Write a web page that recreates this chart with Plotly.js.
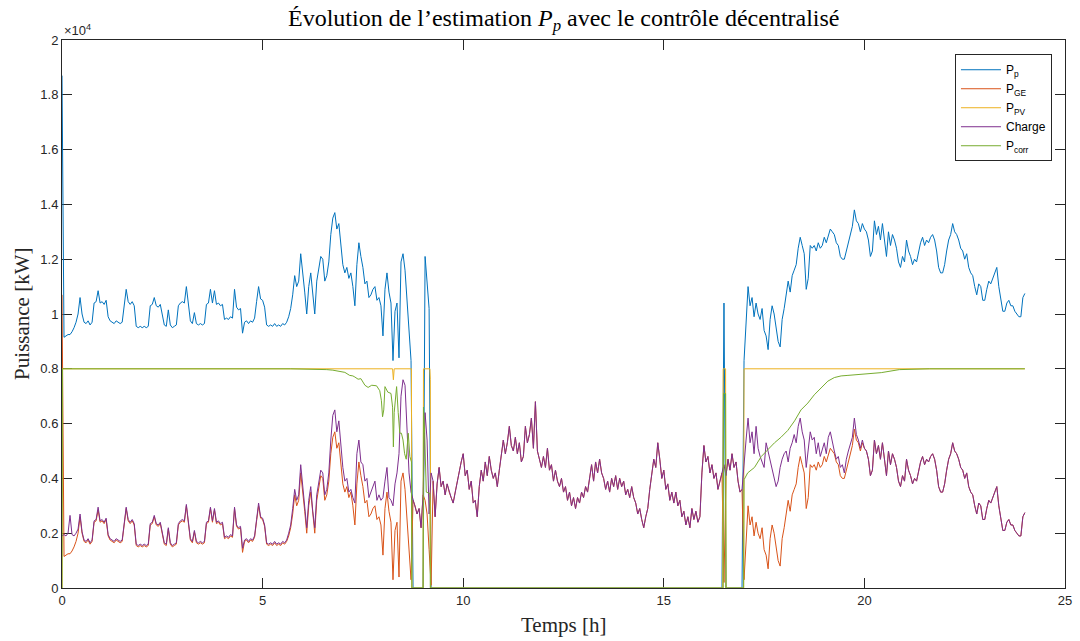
<!DOCTYPE html>
<html>
<head>
<meta charset="utf-8">
<script src="https://cdn.plot.ly/plotly-3.0.1.min.js"></script>
<style>html,body{margin:0;padding:0;background:#fff;}#chart{width:1080px;height:641px;}</style>
</head>
<body>
<div id="chart"></div>
<script>
// Sampling step of the main series (hours); each row below = one hour (20 samples)
const STEP_H = 0.05;

// P_p (kW)
const Pp = [
18700,9150,9200,9250,9250,9350,9500,9700,10000,10600,10000,9700,9650,9750,9600,9700,10400,10450,10850,10400,
10450,10350,10500,9900,9750,9700,9650,9750,9700,9650,9700,10400,10900,10450,10350,10450,10300,9550,9500,9550,
9500,9550,9500,9550,10300,10350,10600,10300,10250,10350,9950,9600,9550,10150,9600,9500,9550,9600,10300,10400,
10450,10400,11000,10450,9750,9650,10050,9650,9600,9650,9600,9650,10350,10400,10900,10400,10850,10350,10400,10300,
10350,9800,9850,9800,9900,9850,10900,10250,10150,10200,9300,9700,9750,9650,9750,9700,9850,10450,11000,10550,
10500,10250,9600,9550,9600,9550,9650,9550,9600,9550,9650,9600,9700,9900,10200,10700,11400,11000,11200,12200,
11600,10800,10000,11000,11500,10600,10000,11200,11700,12100,12000,11200,11400,11900,12900,13500,13700,13100,13300,12600,
11800,11500,11700,11300,11500,11000,10300,11800,12600,12100,11700,11100,11200,10600,10700,10900,11000,10500,10600,10300,
9200,10900,11500,10800,10400,8300,10100,10400,8400,11900,12200,11600,10600,9400,8300,0,0,0,0,0,
0,12100,11000,10200,0,0,0,0,0,0,0,0,0,0,0,0,0,0,0,0,
0,0,0,0,0,0,0,0,0,0,0,0,0,0,0,0,0,0,0,0,
0,0,0,0,0,0,0,0,0,0,0,0,0,0,0,0,0,0,0,0,
0,0,0,0,0,0,0,0,0,0,0,0,0,0,0,0,0,0,0,0,
0,0,0,0,0,0,0,0,0,0,0,0,0,0,0,0,0,0,0,0,
0,0,0,0,0,0,0,0,0,0,0,0,0,0,0,0,0,0,0,0,
0,0,0,0,0,0,0,0,0,0,0,0,0,0,0,0,0,0,0,0,
0,0,0,0,0,0,0,0,0,0,10400,0,0,0,0,0,0,0,0,0,
8300,9800,11000,10300,10600,9900,10400,10000,9800,10200,9400,9200,8700,9800,10300,10000,9400,9000,8800,9800,
10200,10700,11200,10800,11400,11600,11800,12400,12800,12500,12200,10900,11300,12500,12400,12500,12300,12600,12400,12500,
12800,12600,12900,13100,13000,12900,12600,12500,12100,12000,12000,12300,12500,12900,13200,13800,13400,13300,13000,13300,
13100,13000,12700,12100,12300,13400,12900,13200,12700,13300,12700,12100,13000,12500,12900,12700,12400,11900,11700,12100,
11900,12700,12300,12100,11800,12000,11900,12300,12600,12800,12500,12700,12600,12800,12900,12700,12300,11700,11500,11500,
11800,12300,12700,12900,13300,13000,12900,12700,12400,12300,12000,12200,11700,11500,11400,11000,10700,11100,11000,10500,
10500,10900,11200,11100,11300,11500,11700,11000,10500,10100,10100,10400,10500,10300,10300,10100,10000,9900,9900,10600,
10750
];

// P_GE (kW)
const Pge = [
10700,1150,1200,1250,1250,1350,1500,1700,2000,2600,2000,1700,1650,1750,1600,1700,2400,2450,2850,2400,
2450,2350,2500,1900,1750,1700,1650,1750,1700,1650,1700,2400,2900,2450,2350,2450,2300,1550,1500,1550,
1500,1550,1500,1550,2300,2350,2600,2300,2250,2350,1950,1600,1550,2150,1600,1500,1550,1600,2300,2400,
2450,2400,3000,2450,1750,1650,2050,1650,1600,1650,1600,1650,2350,2400,2900,2400,2850,2350,2400,2300,
2350,1800,1850,1800,1900,1850,2900,2250,2150,2200,1300,1700,1750,1650,1750,1700,1850,2450,3000,2550,
2500,2250,1600,1550,1600,1550,1650,1550,1600,1550,1650,1600,1700,1900,2200,2700,3400,3000,3200,4200,
3600,2800,2000,3000,3500,2600,2000,3200,3700,4100,4000,3200,3400,3900,4900,5500,5700,5100,5300,4600,
3800,3500,3700,3300,3500,3000,2300,3800,4600,4100,3700,3100,3200,2600,2700,2900,3000,2500,2600,2300,
1200,2900,3500,2800,2400,300,2100,2400,400,3900,4200,3600,2600,1400,300,3200,3000,2700,2900,2200,
3400,3200,2700,1400,100,3900,2600,3800,4400,3700,3900,3400,3800,3500,3300,3100,3500,3900,4200,4600,
4900,4100,4300,3600,3900,3100,3200,2600,3700,4300,3900,4600,4100,4800,4300,4000,4200,3700,4300,4900,
5400,4900,5300,5900,5200,5000,5500,4900,5300,4600,4800,5900,5300,5600,6200,5100,6800,5000,4700,4400,
4800,4400,5100,4300,4500,3900,4300,3900,3700,4000,3500,3700,3200,3500,3000,3300,2900,3300,3100,3500,
3300,3700,3500,4100,4500,3900,4600,4200,4700,4200,4000,3600,3900,3500,4000,3700,4100,3600,4000,3700,
3900,3400,3600,3300,3700,3300,3100,2700,2900,2500,2200,2600,2900,3600,4200,4700,4400,5300,4700,4000,
4300,3600,3800,3200,3500,3100,3500,3000,3200,2600,2800,2300,2600,2200,2900,2500,2800,2400,2600,4200,
5200,4600,4800,4200,4500,4000,4200,3600,3900,4200,200,4100,4700,4300,4900,4400,4600,3900,3500,3600,
300,1800,3000,2300,2600,1900,2400,2000,1800,2200,1400,1200,700,1800,2300,2000,1400,1000,800,1800,
2200,2700,3200,2800,3400,3600,3800,4400,4800,4500,4200,2900,3300,4500,4400,4500,4300,4600,4400,4500,
4800,4600,4900,5100,5000,4900,4600,4500,4100,4000,4000,4300,4500,4900,5200,5800,5400,5300,5000,5300,
5100,5000,4700,4100,4300,5400,4900,5200,4700,5300,4700,4100,5000,4500,4900,4700,4400,3900,3700,4100,
3900,4700,4300,4100,3800,4000,3900,4300,4600,4800,4500,4700,4600,4800,4900,4700,4300,3700,3500,3500,
3800,4300,4700,4900,5300,5000,4900,4700,4400,4300,4000,4200,3700,3500,3400,3000,2700,3100,3000,2500,
2500,2900,3200,3100,3300,3500,3700,3000,2500,2100,2100,2400,2500,2300,2300,2100,2000,1900,1900,2600,
2750
];

// Charge (kW)
const Charge = [
1900,1950,1900,2000,2650,1950,1900,2000,2150,2700,2050,1750,1700,1800,1650,1750,2450,2500,2950,2450,
2500,2400,2550,1950,1800,1750,1700,1800,1750,1700,1750,2450,2950,2500,2400,2500,2350,1600,1550,1600,
1550,1600,1550,1600,2350,2400,2650,2350,2300,2400,2000,1650,1600,2200,1650,1550,1600,1650,2350,2450,
2500,2450,3050,2500,1800,1700,2100,1700,1650,1700,1650,1700,2400,2450,2950,2450,2900,2400,2450,2350,
2400,1850,1900,1850,1950,1900,2950,2300,2200,2250,1450,1750,1800,1700,1800,1750,1900,2500,3100,2600,
2550,2300,1650,1600,1650,1600,1700,1600,1650,1600,1700,1650,1750,2000,2300,2900,3600,3200,3400,4500,
3800,3000,2200,3200,3700,2800,2200,3400,3900,4300,4200,3400,3600,4200,5400,6300,6500,5700,6100,5200,
4400,3900,4000,3500,3600,3300,3100,4900,5400,4600,4500,3900,4000,3300,3500,3700,3900,3200,3400,3200,
3300,3900,4400,3300,3200,3000,3800,4200,4900,7000,7600,7400,6000,4200,3500,3200,3000,2700,2900,2200,
3400,6400,5400,2700,4200,3900,2600,3800,4400,3700,3900,3400,3800,3500,3300,3100,3500,3900,4200,4600,
4900,4100,4300,3600,3900,3100,3200,2600,3700,4300,3900,4600,4100,4800,4300,4000,4200,3700,4300,4900,
5400,4900,5300,5900,5200,5000,5500,4900,5300,4600,4800,5900,5300,5600,6200,5100,6800,5000,4700,4400,
4800,4400,5100,4300,4500,3900,4300,3900,3700,4000,3500,3700,3200,3500,3000,3300,2900,3300,3100,3500,
3300,3700,3500,4100,4500,3900,4600,4200,4700,4200,4000,3600,3900,3500,4000,3700,4100,3600,4000,3700,
3900,3400,3600,3300,3700,3300,3100,2700,2900,2500,2200,2600,2900,3600,4200,4700,4400,5300,4700,4000,
4300,3600,3800,3200,3500,3100,3500,3000,3200,2600,2800,2300,2600,2200,2900,2500,2800,2400,2600,4200,
5200,4600,4800,4200,4500,4000,4200,3600,3900,4200,4500,4100,4700,4300,4900,4400,4600,3900,3500,3600,
4700,5400,6200,5300,5700,4900,5900,5100,4800,4600,4400,5300,5000,4600,4300,4000,3700,3900,4400,4700,
4900,5000,4600,5100,5300,5600,5300,5900,6200,5700,5400,4400,5000,5700,5400,5500,4900,5300,4800,5100,
5300,4900,5500,5700,5300,5000,4700,4800,4400,4500,4200,4700,5000,5300,5500,6200,5600,5400,5100,5400,
5100,5000,4700,4100,4300,5400,4900,5200,4700,5300,4700,4100,5000,4500,4900,4700,4400,3900,3700,4100,
3900,4700,4300,4100,3800,4000,3900,4300,4600,4800,4500,4700,4600,4800,4900,4700,4300,3700,3500,3500,
3800,4300,4700,4900,5300,5000,4900,4700,4400,4300,4000,4200,3700,3500,3400,3000,2700,3100,3000,2500,
2500,2900,3200,3100,3300,3500,3700,3000,2500,2100,2100,2400,2500,2300,2300,2100,2000,1900,1900,2600,
2750
];

// P_PV (kW) with its own time stamps (h)
const tPV = [0, 0.01, 8.24, 8.26, 8.28, 8.71, 8.72, 9.0, 9.01, 9.17, 9.18, 9.19, 16.47, 16.48, 16.54, 16.55, 16.99, 17.0, 24.0];
const Ppv = [0, 8000, 8000, 7600, 8000, 8000, 0, 0, 8000, 8000, 7600, 0, 0, 8000, 8000, 0, 0, 8000, 8000];

// P_corr (kW) with its own time stamps (h)
const tCorr = [0, 0.01, 5.7, 6.3, 6.6, 6.75, 6.9, 7.05, 7.17, 7.25,
  7.3, 7.38, 7.45, 7.55, 7.63, 7.72, 7.84, 7.92, 7.96, 7.99,
  8.02, 8.05, 8.12, 8.2, 8.24, 8.26, 8.28, 8.34, 8.38, 8.42,
  8.46, 8.5, 8.54, 8.58, 8.63, 8.67, 8.71, 8.72, 9.0, 9.01,
  9.04, 9.08, 9.17, 9.18, 16.48, 16.49, 16.54, 16.55, 16.99, 17.0,
  17.09, 17.26, 17.43, 17.59, 17.76, 17.92, 18.09, 18.26, 18.42, 18.59,
  18.75, 18.92, 19.09, 19.25, 19.42, 19.59, 20.0, 20.42, 20.87, 21.2,
  21.62, 24.0];
const Pcorr = [0, 8000, 8000, 7990, 7970, 7950, 7920, 7870, 7760, 7740,
  7700, 7620, 7640, 7400, 7320, 7400, 7380, 7200, 6850, 6250,
  6500, 7350, 7150, 7100, 6600, 5150, 6400, 7350, 6400, 5650,
  5650, 5400, 4900, 4700, 5650, 4800, 4600, 0, 0, 6600,
  5650, 3500, 3450, 0, 0, 7100, 7100, 0, 0, 3950,
  4200, 4400, 4800, 5050, 5300, 5500, 5750, 6100, 6500, 6750,
  7050, 7300, 7550, 7680, 7740, 7760, 7800, 7860, 7970, 7985,
  8000, 8000];

// Axis ticks
const xTicks = [0, 5, 10, 15, 20, 25];
const yTickVals = [0, 2000, 4000, 6000, 8000, 10000, 12000, 14000, 16000, 18000, 20000];
const yTickText = ['0', '0.2', '0.4', '0.6', '0.8', '1', '1.2', '1.4', '1.6', '1.8', '2'];

const names = ['P<sub>p</sub>', 'P<sub>GE</sub>', 'P<sub>PV</sub>', 'Charge', 'P<sub>corr</sub>'];
const colors = ['#0072BD', '#D95319', '#EDB120', '#7E2F8E', '#77AC30'];

const hours = Pp.map((_, i) => +(i * STEP_H).toFixed(2));

const mk = (x, y, k) => ({x: x, y: y, type: 'scatter', mode: 'lines', name: names[k],
  line: {color: colors[k], width: 1}, hoverinfo: 'skip'});

const data = [
  mk(hours, Pp, 0),
  mk(hours, Pge, 1),
  mk(tPV, Ppv, 2),
  mk(hours, Charge, 3),
  mk(tCorr, Pcorr, 4)
];

const axisCol = '#262626';
const sans = 'Liberation Sans, Arial, sans-serif';
const serif = 'Liberation Serif, Times New Roman, serif';

const layout = {
  width: 1080, height: 641,
  margin: {l: 62, r: 15, t: 40, b: 53, pad: 0},
  paper_bgcolor: '#ffffff', plot_bgcolor: '#ffffff',
  showlegend: true,
  title: {text: 'Évolution de l’estimation <i>P<sub>p</sub></i> avec le contrôle décentralisé',
    font: {family: serif, size: 24, color: '#000000'}, x: 0.522, xanchor: 'center', y: 0.972, yanchor: 'middle'},
  xaxis: {range: [0, 25], tickvals: xTicks, ticks: 'inside', ticklen: 10, tickcolor: axisCol,
    showline: true, linecolor: axisCol, linewidth: 1, mirror: 'ticks', showgrid: false, zeroline: false,
    layer: 'below traces',
    tickfont: {family: sans, size: 13, color: axisCol}, fixedrange: true},
  yaxis: {range: [0, 20000], tickvals: yTickVals, ticktext: yTickText, ticks: 'inside', ticklen: 10, tickcolor: axisCol,
    showline: true, linecolor: axisCol, linewidth: 1, mirror: 'ticks', showgrid: false, zeroline: false,
    layer: 'below traces',
    tickfont: {family: sans, size: 13, color: axisCol}, fixedrange: true},
  legend: {x: 0.987, xanchor: 'right', y: 0.974, yanchor: 'top', bgcolor: '#ffffff',
    bordercolor: axisCol, borderwidth: 1, font: {family: sans, size: 12, color: '#000000'},
    tracegroupgap: 0, itemwidth: 40},
  annotations: [
    {text: 'Puissance [kW]', xref: 'paper', yref: 'paper', x: -0.04, y: 0.5, xanchor: 'center', yanchor: 'middle',
      textangle: -90, showarrow: false, font: {family: serif, size: 21, color: axisCol}},
    {text: 'Temps [h]', xref: 'paper', yref: 'paper', x: 0.5, y: -0.068, xanchor: 'center', yanchor: 'middle',
      showarrow: false, font: {family: serif, size: 21, color: axisCol}},
    {text: '×10<sup>4</sup>', xref: 'paper', yref: 'paper', x: 0, y: 1, xanchor: 'left', yanchor: 'bottom',
      showarrow: false, font: {family: sans, size: 13, color: axisCol}}
  ]
};

Plotly.newPlot('chart', data, layout, {displayModeBar: false, staticPlot: true});
</script>
</body>
</html>
